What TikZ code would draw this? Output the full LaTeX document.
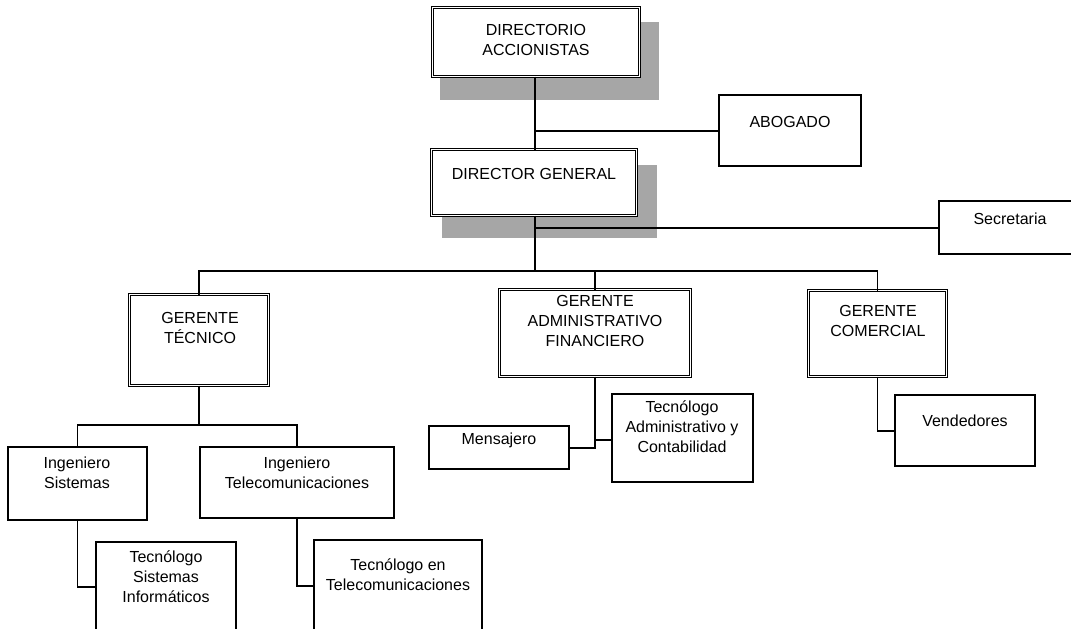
\documentclass[tikz,border=0pt]{standalone}
\usepackage{fontspec}
\setmainfont{Liberation Sans}
\begin{document}
\begin{tikzpicture}[x=1pt,y=-1pt,
  box/.style={draw, line width=1.3pt, fill=white, inner sep=0pt, outer sep=0pt},
  dbox/.style={draw, double, double distance=1.8pt, line width=0.8pt, fill=white, inner sep=0pt, outer sep=0pt},
  t/.style={align=center, font=\fontsize{16}{20}\selectfont, inner sep=0pt, anchor=north, yshift=8pt, execute at begin node=\strut},
  conn/.style={line width=1.1pt},
  shade/.style={fill=black!35}]
\useasboundingbox (0,0) rectangle (1071,629);
\clip (0,0) rectangle (1071,629);
% shadows
\fill[shade] (440,22) rectangle (659,100);
\fill[shade] (442,165) rectangle (657,238);
% boxes
\node[dbox, minimum width=207pt, minimum height=69pt] (da) at (536,42) {};
\node[box, minimum width=142pt, minimum height=71pt] (ab) at (790,130.5) {};
\node[dbox, minimum width=205pt, minimum height=66pt] (dg) at (534,182.5) {};
\node[box, minimum width=151pt, minimum height=53pt] (se) at (1014.5,227.5) {};
\node[dbox, minimum width=139pt, minimum height=91pt] (gt) at (199,340) {};
\node[dbox, minimum width=191pt, minimum height=87pt] (gaf) at (595,333) {};
\node[dbox, minimum width=138pt, minimum height=86pt] (gc) at (877.5,333.5) {};
\node[box, minimum width=139pt, minimum height=73pt] (is) at (77.5,483.5) {};
\node[box, minimum width=194pt, minimum height=71pt] (it) at (297,482.5) {};
\node[box, minimum width=140pt, minimum height=118pt] (tsi) at (166,601) {};
\node[box, minimum width=168pt, minimum height=120pt] (tt) at (398,600) {};
\node[box, minimum width=140pt, minimum height=43pt] (me) at (499,447.5) {};
\node[box, minimum width=141pt, minimum height=88pt] (ta) at (682.5,438) {};
\node[box, minimum width=140pt, minimum height=71pt] (ve) at (965,430.5) {};
% texts
\node[t] (da-t) at (536,32) {DIRECTORIO\\ACCIONISTAS};
\node[t] (ab-t) at (790,121) {ABOGADO};
\node[t] (dg-t) at (534,173) {DIRECTOR GENERAL};
\node[t] (se-t) at (1010,218) {Secretaria};
\node[t] (gt-t) at (200,320) {GERENTE\\TÉCNICO};
\node[t] (gaf-t) at (595,303) {GERENTE\\ADMINISTRATIVO\\FINANCIERO};
\node[t] (gc-t) at (878,313) {GERENTE\\COMERCIAL};
\node[t] (is-t) at (77,465) {Ingeniero\\Sistemas};
\node[t] (it-t) at (297,465) {Ingeniero\\Telecomunicaciones};
\node[t] (tsi-t) at (166,559) {Tecnólogo\\Sistemas\\Informáticos};
\node[t] (tt-t) at (398,567) {Tecnólogo en\\Telecomunicaciones};
\node[t] (me-t) at (499,438) {Mensajero};
\node[t] (ta-t) at (682,409) {Tecnólogo\\Administrativo y\\Contabilidad};
\node[t] (ve-t) at (965,420) {Vendedores};
% helper coordinates
\coordinate (j1) at (535,131);
\coordinate (s1) at (535,228);
\coordinate (b1) at (535,271);
\coordinate (b2) at (0,425);
\coordinate (k1) at (0,587);
\coordinate (k2) at (0,586);
\coordinate (k3) at (0,448);
\coordinate (k4) at (0,440);
\coordinate (k5) at (0,431);
% connectors
\draw[conn] (da.south -| j1) -- (dg.north -| j1);
\draw[conn] (j1) -- (ab.west |- j1);
\draw[conn] (dg.south -| b1) -- (b1);
\draw[conn] (s1) -- (se.west |- s1);
\draw[conn] (gt.north) -- (gt.north |- b1) -- (gc.north |- b1) -- (gc.north);
\draw[conn] (gaf.north) -- (gaf.north |- b1);
\draw[conn] (gt.south) -- (gt.south |- b2);
\draw[conn] (is.north) -- (is.north |- b2) -- (it.north |- b2) -- (it.north);
\draw[conn] (is.south) |- (tsi.west |- k1);
\draw[conn] (it.south) |- (tt.west |- k2);
\draw[conn] (gaf.south) -- (gaf.south |- k3) -- (me.east |- k3);
\draw[conn] (gaf.south |- k4) -- (ta.west |- k4);
\draw[conn] (gc.south) |- (ve.west |- k5);
\end{tikzpicture}
\end{document}
